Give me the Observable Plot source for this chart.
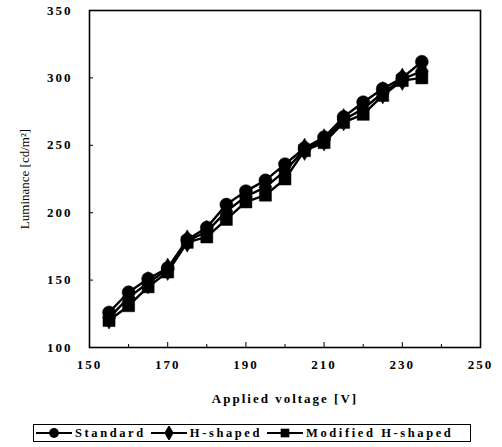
<!DOCTYPE html>
<html>
<head>
<meta charset="utf-8">
<script src="https://cdn.jsdelivr.net/npm/d3@7"></script>
<script src="https://cdn.jsdelivr.net/npm/@observablehq/plot@0.6"></script>
<style>
  html, body { margin: 0; padding: 0; background: #fff; }
  #wrap { position: relative; width: 502px; height: 447px; font-family: "Liberation Serif", serif; }
  #chart svg { display: block; }
  .tk text { font-weight: bold; letter-spacing: 2px; }
  #legend { position: absolute; left: 33px; top: 424px; width: 436px; height: 16px; border: 1px solid #000;
            display: flex; align-items: center; font-family: "Liberation Serif", serif; font-size: 12.5px;
            font-weight: bold; letter-spacing: 2.6px; white-space: nowrap; box-sizing: content-box; }
  #legend .item { display: flex; align-items: center; margin-right: 3px; }
  #legend svg { display: block; margin-right: 1px; }
</style>
</head>
<body>
<div id="wrap">
  <div id="chart"></div>
  <div id="legend"></div>
</div>
<script>
const voltage  = [155, 160, 165, 170, 175, 180, 185, 190, 195, 200, 205, 210, 215, 220, 225, 230, 235];
const standard = [126, 141, 151, 159, 180, 189, 206, 216, 224, 236, 248, 256, 271, 282, 292, 300, 312];
const hShaped  = [122, 137, 148, 158, 179, 186, 201, 212, 219, 231, 247, 254, 269, 277, 289, 299, 305];
const modified = [120, 131, 145, 156, 178, 182, 195, 208, 213, 225, 246, 252, 267, 273, 287, 298, 300];
const seriesNames = ["Standard", "H-shaped", "Modified H-shaped"];
const seriesSymbols = ["circle", "diamond", "square"];
const xTicks = [150, 170, 190, 210, 230, 250];
const xMinorTicks = [160, 180, 200, 220, 240];
const yTicks = [100, 150, 200, 250, 300, 350];

const seriesValues = [standard, hShaped, modified];
const rows = [];
seriesNames.forEach((name, i) => {
  voltage.forEach((v, j) => rows.push({series: name, symbol: seriesSymbols[i], x: v, y: seriesValues[i][j]}));
});
const drawOrder = ["Modified H-shaped", "H-shaped", "Standard"];

const marks = [];
for (const name of drawOrder) {
  const d = rows.filter(r => r.series === name);
  marks.push(Plot.line(d, {x: "x", y: "y", stroke: "#000", strokeWidth: 2.4}));
}
for (const name of drawOrder) {
  const d = rows.filter(r => r.series === name);
  const sym = d[0].symbol;
  marks.push(Plot.dot(d, {x: "x", y: "y", symbol: () => sym, fill: "#000", stroke: "#000", strokeWidth: 0.5,
    r: sym === "square" ? 6.8 : sym === "diamond" ? 6.8 : 6.5}));
}

const chart = Plot.plot({
  width: 502,
  height: 415,
  marginLeft: 89,
  marginRight: 22,
  marginTop: 10,
  marginBottom: 68,
  style: {fontFamily: "Liberation Serif, serif", fontSize: "13px", color: "#000", background: "#fff", overflow: "visible"},
  symbol: {type: "identity"},
  x: {domain: [150, 250], label: null},
  y: {domain: [100, 350], label: null},
  marks: [
    ...marks,
    Plot.axisX({ticks: xTicks, tickSize: 0, tickPadding: 12, className: "tk", fontSize: 13,
      label: "Applied voltage [V]", labelAnchor: "center", labelArrow: "none", labelOffset: 55}),
    Plot.axisX({ticks: xTicks, tickSize: -5, text: null, label: null, strokeWidth: 1}),
    Plot.axisX({ticks: xMinorTicks, tickSize: -3, text: null, label: null, strokeWidth: 1}),
    Plot.axisY({ticks: yTicks, tickSize: 0, tickPadding: 17, className: "tk", fontSize: 13,
      label: "Luminance [cd/m²]", labelAnchor: "center", labelArrow: "none", labelOffset: 70}),
    Plot.axisY({ticks: yTicks, tickSize: -4, text: null, label: null, strokeWidth: 1}),
    Plot.frame({stroke: "#000", strokeWidth: 1.6})
  ]
});
document.getElementById("chart").appendChild(chart);

d3.select(chart).selectAll("g[aria-label='x-axis label'] text")
  .style("font-weight", "bold").style("letter-spacing", "2px").style("font-size", "13px");
d3.select(chart).selectAll("g[aria-label='y-axis label'] text")
  .style("font-weight", "normal").style("letter-spacing", "0px").style("font-size", "13px").attr("fill", "#000");

const legend = d3.select("#legend");
seriesNames.forEach((name, i) => {
  const item = legend.append("div").attr("class", "item");
  const s = item.append("svg").attr("width", 40).attr("height", 14);
  s.append("line").attr("x1", 2).attr("x2", 38).attr("y1", 7).attr("y2", 7).attr("stroke", "#000").attr("stroke-width", 2);
  const sym = {circle: d3.symbolCircle, diamond: d3.symbolDiamond, square: d3.symbolSquare}[seriesSymbols[i]];
  s.append("path").attr("d", d3.symbol(sym, 75)()).attr("transform", "translate(20,7)").attr("fill", "#000");
  item.append("span").text(name);
});
</script>
</body>
</html>
